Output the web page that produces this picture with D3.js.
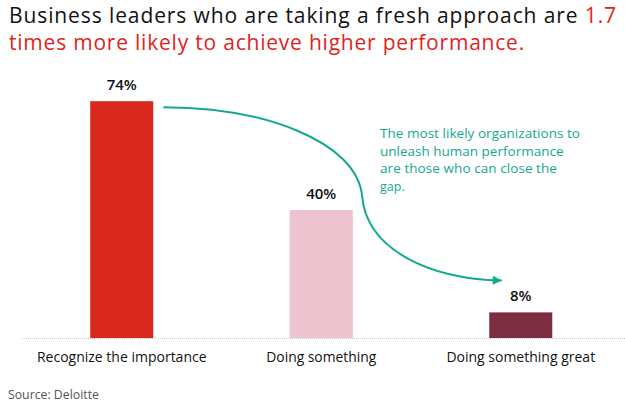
<!DOCTYPE html>
<html>
<head>
<meta charset="utf-8">
<script src="https://cdn.jsdelivr.net/npm/d3@7"></script>
<style>
  html, body { margin: 0; padding: 0; background: #fff; }
  svg { display: block; font-family: "Open Sans", "Noto Sans", sans-serif; }
</style>
</head>
<body>
<svg id="chart" width="625" height="408"></svg>
<script>
const categories = ["Recognize the importance", "Doing something", "Doing something great"];
const values = [74, 40, 8];
const valueLabels = ["74%", "40%", "8%"];
const barColors = ["#DA291C", "#EDC3D0", "#7B2D42"];
const titleLine1 = "Business leaders who are taking a fresh approach are ";
const titleHighlight = "1.7";
const titleLine2 = "times more likely to achieve higher performance.";
const noteLines = ["The most likely organizations to", "unleash human performance", "are those who can close the", "gap."];
const sourceText = "Source: Deloitte";

const svg = d3.select("#chart");
const W = 625, H = 408;
const RED = "#E0241B", TEAL = "#14A88F";

// fit helper: scale font-size toward target width (bounded), then fill remainder with letter-spacing
function fit(sel, target, maxFs) {
  const node = sel.node();
  const fs = parseFloat(sel.attr("font-size"));
  let w = node.getComputedTextLength();
  if (w > 0) {
    let nfs = fs * target / w;
    if (maxFs && nfs > maxFs) nfs = maxFs;
    sel.attr("font-size", nfs.toFixed(2));
    w = node.getComputedTextLength();
    const n = node.textContent.length;
    if (w < target - 1 && n > 1) sel.attr("letter-spacing", ((target - w) / n).toFixed(3));
  }
  return sel;
}

// scales
const x = d3.scaleBand().domain(categories).range([22, 620.5]).paddingInner(0.684).paddingOuter(0.342);
const y = d3.scaleLinear().domain([0, 100]).range([338, 18]);

// title
const t1 = svg.append("text").attr("x", 9).attr("y", 23).attr("font-size", 21).attr("fill", "#111");
t1.append("tspan").text(titleLine1);
t1.append("tspan").attr("fill", RED).text(titleHighlight);
fit(t1, 608, 21);
const t2 = svg.append("text").attr("x", 9).attr("y", 50).attr("font-size", 21).attr("fill", RED).text(titleLine2);
fit(t2, 516, 21);

// baseline
svg.append("line")
  .attr("x1", 22).attr("x2", W).attr("y1", y(0) + 0.5).attr("y2", y(0) + 0.5)
  .attr("stroke", "#c8c8c8").attr("stroke-width", 1).attr("stroke-dasharray", "1,1");

// bars
const data = categories.map((c, i) => ({ c, v: values[i], label: valueLabels[i], color: barColors[i] }));
svg.append("g").selectAll("rect").data(data).join("rect")
  .attr("x", d => x(d.c)).attr("width", x.bandwidth())
  .attr("y", d => y(d.v)).attr("height", d => y(0) - y(d.v))
  .attr("fill", d => d.color);

// value labels
svg.append("g").selectAll("text").data(data).join("text")
  .attr("x", d => x(d.c) + x.bandwidth() / 2)
  .attr("y", d => y(d.v) - 11)
  .attr("text-anchor", "middle").attr("font-size", 15).attr("font-weight", 600).attr("fill", "#111")
  .text(d => d.label);

// category labels
const catTargets = [170, 110, 149];
svg.append("g").selectAll("text").data(data).join("text")
  .attr("x", d => x(d.c) + x.bandwidth() / 2)
  .attr("y", 362)
  .attr("text-anchor", "middle").attr("font-size", 13).attr("fill", "#111")
  .text(d => d.c)
  .each(function(d, i) { fit(d3.select(this), catTargets[i], 14); });

// arrow annotation
const defs = svg.append("defs");
defs.append("marker").attr("id", "ah").attr("viewBox", "0 0 10 10")
  .attr("refX", 10).attr("refY", 5).attr("markerWidth", 12).attr("markerHeight", 9)
  .attr("markerUnits", "userSpaceOnUse").attr("orient", "auto")
  .append("path").attr("d", "M0,0 L10,5 L0,10 Z").attr("fill", TEAL);

const x0 = x(categories[0]) + x.bandwidth() + 10, y0 = y(values[0]) + 6;
const xm = 362, ym = 195;
const x1 = x(categories[2]) + x.bandwidth() / 2 - 19, y1 = y(values[2]) - 32;
const p = d3.path();
p.moveTo(x0, y0);
p.bezierCurveTo(265, y0, 356, 142, xm, ym);
p.bezierCurveTo(366, 250, 430, 279, x1, y1);
svg.append("path").attr("d", p.toString()).attr("fill", "none")
  .attr("stroke", TEAL).attr("stroke-width", 2).attr("marker-end", "url(#ah)");

// note text
const noteTargets = [200, 184, 177, null];
noteLines.forEach((line, i) => {
  const t = svg.append("text").attr("x", 380).attr("y", 138 + i * 17.5)
    .attr("font-size", 12.5).attr("fill", TEAL).text(line);
  if (noteTargets[i]) fit(t, noteTargets[i], 13.5);
});

// source
const s = svg.append("text").attr("x", 8).attr("y", 399).attr("font-size", 12).attr("fill", "#555").text(sourceText);
fit(s, 91, 12.5);
</script>
</body>
</html>
